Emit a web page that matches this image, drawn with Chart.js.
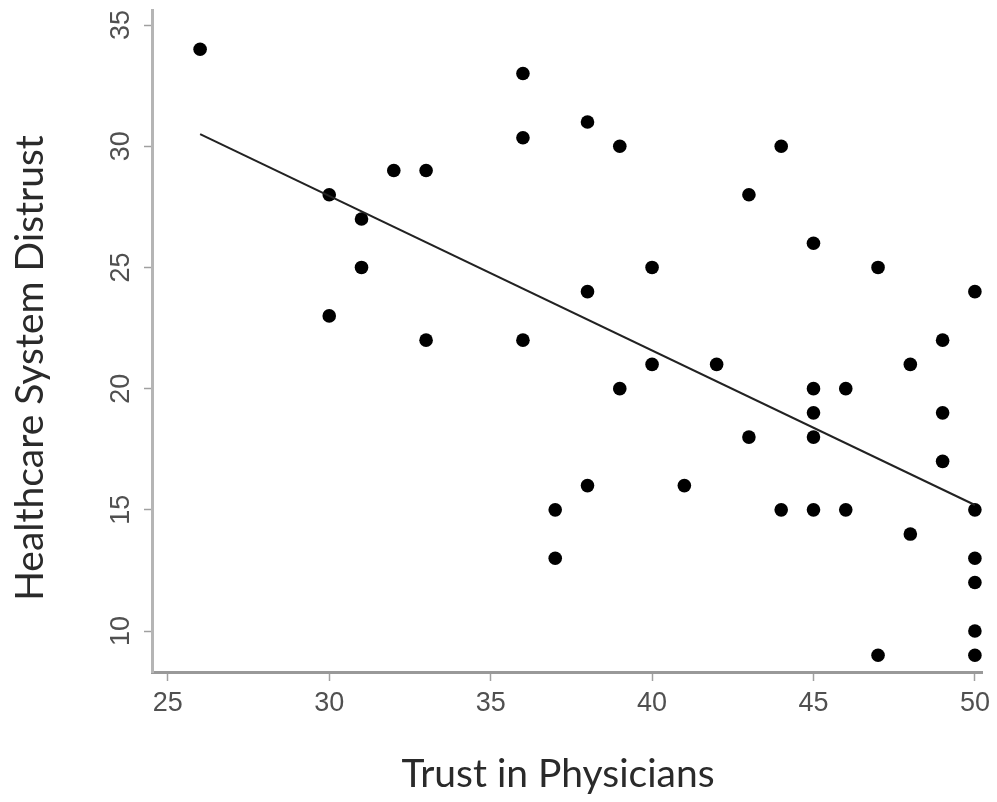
<!DOCTYPE html>
<html>
<head>
<meta charset="utf-8">
<script src="https://cdn.jsdelivr.net/npm/chart.js@4/dist/chart.umd.min.js"></script>
<style>
  html, body { margin: 0; padding: 0; background: #ffffff; }
  #wrap { width: 997px; height: 802px; }
</style>
</head>
<body>
<div id="wrap"><canvas id="c" width="997" height="802"></canvas></div>
<script>
// Trust in Physicians (x) vs Healthcare System Distrust (y)
const trustX = [26, 30, 30, 31, 31, 32, 33, 33, 36, 36, 36, 37, 37, 38, 38, 38, 39, 39, 40, 40, 41, 42, 43, 43, 44, 44, 45, 45, 45, 45, 45, 46, 46, 47, 47, 48, 48, 49, 49, 49, 50, 50, 50, 50, 50, 50];
const distrustY = [34, 28, 23, 27, 25, 29, 29, 22, 33, 30.35, 22, 15, 13, 31, 24, 16, 30, 20, 25, 21, 16, 21, 28, 18, 30, 15, 26, 20, 19, 18, 15, 20, 15, 25, 9, 21, 14, 22, 19, 17, 24, 15, 13, 12, 10, 9];
// fitted line end points
const fitX = [26, 50];
const fitY = [30.5, 15.2];
const xTickLabels = [25, 30, 35, 40, 45, 50];
const yTickLabels = [10, 15, 20, 25, 30, 35];
const xTitle = 'Trust in Physicians';
const yTitle = 'Healthcare System Distrust';

const points = trustX.map((x, i) => ({ x: x, y: distrustY[i] }));
const fitLine = fitX.map((x, i) => ({ x: x, y: fitY[i] }));

const axisGrey = '#a0a0a0';
const tickFont = { family: '"Liberation Sans Narrow", "Arial Narrow", "Liberation Sans", Arial, sans-serif', size: 27 };
const titleFontCss = '39px Lato, "Open Sans", sans-serif';

// axis titles, placed as in the original figure (offset from the plot box)
const axisTitles = {
  id: 'axisTitles',
  afterDraw(chart) {
    const ctx = chart.ctx;
    const a = chart.chartArea;
    ctx.save();
    ctx.fillStyle = '#2a2a2a';
    ctx.font = titleFontCss;
    ctx.textAlign = 'center';
    ctx.textBaseline = 'alphabetic';
    ctx.fillText(xTitle, (a.left + a.right) / 2 - 9, a.bottom + 115);
    ctx.translate(a.left - 109, a.bottom - 304);
    ctx.rotate(-Math.PI / 2);
    ctx.fillText(yTitle, 0, 0);
    ctx.restore();
  }
};

new Chart(document.getElementById('c'), {
  type: 'scatter',
  data: {
    datasets: [
      {
        type: 'line',
        data: fitLine,
        borderColor: '#222222',
        borderWidth: 2,
        pointRadius: 0,
        fill: false,
        tension: 0
      },
      {
        data: points,
        backgroundColor: '#000000',
        borderWidth: 0,
        pointRadius: 6.8,
        pointHoverRadius: 6.8
      }
    ]
  },
  options: {
    responsive: false,
    animation: false,
    events: [],
    layout: { padding: { left: 0, top: 10, right: 15, bottom: 0 } },
    plugins: { legend: { display: false }, tooltip: { enabled: false } },
    scales: {
      x: {
        type: 'linear',
        min: 24.51,
        max: 50.22,
        afterBuildTicks: (s) => { s.ticks = xTickLabels.map(v => ({ value: v })); },
        afterFit: (s) => { s.height = 802 - 672; s.paddingLeft = 0; s.paddingRight = 0; },
        border: { display: true, color: '#999999', width: 3 },
        grid: { display: true, drawOnChartArea: false, drawTicks: true, tickLength: 9, tickColor: axisGrey, tickWidth: 1.5 },
        ticks: { color: '#505050', font: tickFont, padding: 6, maxRotation: 0, autoSkip: false },
        title: { display: false }
      },
      y: {
        type: 'linear',
        min: 8.31,
        max: 35.62,
        afterBuildTicks: (s) => { s.ticks = yTickLabels.map(v => ({ value: v })); },
        afterFit: (s) => { s.width = 152; s.paddingTop = 0; s.paddingBottom = 0; },
        border: { display: true, color: '#b5b5b5', width: 3 },
        grid: { display: true, drawOnChartArea: false, drawTicks: true, tickLength: 8, tickColor: axisGrey, tickWidth: 1.5 },
        ticks: { color: '#505050', font: tickFont, padding: 7, minRotation: 90, maxRotation: 90, crossAlign: 'center', autoSkip: false },
        title: { display: false }
      }
    }
  },
  plugins: [axisTitles]
});
</script>
</body>
</html>
